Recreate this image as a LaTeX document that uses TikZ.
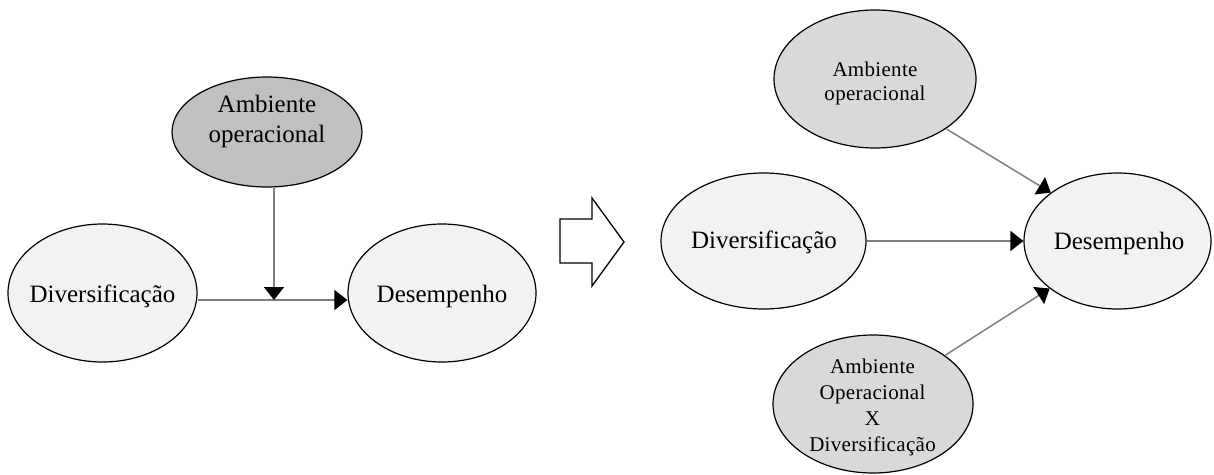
\documentclass[tikz,border=0pt]{standalone}
\usepackage{fontspec}
\setmainfont{Liberation Serif}
\newfontfamily\spacedfont[LetterSpace=1.5]{Liberation Serif}
\usetikzlibrary{shapes.geometric,arrows.meta}
\definecolor{darkfill}{HTML}{C0C0C0}
\definecolor{midfill}{HTML}{D9D9D9}
\definecolor{lightfill}{HTML}{F2F2F2}
\definecolor{conngray}{HTML}{7F7F7F}
\tikzset{
  ell/.style={ellipse, draw=black, line width=1.2pt, inner sep=0pt},
  bigtext/.style={inner sep=0pt, anchor=base, font=\fontsize{25}{30}\selectfont},
  smalltext/.style={inner sep=0pt, anchor=base},
  conn/.style={draw=conngray, line width=1.5pt, -{Triangle[length=13pt,width=20pt,color=black]}},
}
\begin{document}
\begin{tikzpicture}[x=1pt,y=-1pt]
\useasboundingbox (0,0) rectangle (1214,474);
% left model
\node[ell, fill=darkfill, minimum width=190pt, minimum height=110pt] (ambL) at (267,132) {};
\node[ell, fill=lightfill, minimum width=189pt, minimum height=138pt] (divL) at (102.5,293) {};
\node[ell, fill=lightfill, minimum width=188pt, minimum height=138pt] (desL) at (442,293) {};
\node[bigtext] (ambLt) at (267,112) {\begin{tabular}[t]{@{}c@{}}Ambiente\\operacional\end{tabular}};
\node[bigtext] (divLt) at (102.5,302) {Diversificação};
\node[bigtext] (desLt) at (442,302) {Desempenho};
\coordinate (j) at (274,300);
\draw[conn] (divL.east |- j) -- (desL.west |- j);
\draw[conn] (ambL.south -| j) -- (j);
% block arrow
\draw[black, line width=1.3pt, fill=white, line join=miter]
  (560,219) -- (592,219) -- (592,198) -- (624,242) -- (592,286) -- (592,263) -- (560,263) -- cycle;
% right model
\node[ell, fill=midfill, minimum width=202pt, minimum height=138pt] (ambR) at (875,79) {};
\node[ell, fill=lightfill, minimum width=205pt, minimum height=136pt] (divR) at (763.5,241) {};
\node[ell, fill=lightfill, minimum width=187pt, minimum height=136pt] (desR) at (1117.5,241) {};
\node[ell, fill=midfill, minimum width=200pt, minimum height=138pt] (ambXR) at (873,404) {};
\node[smalltext, font=\spacedfont\fontsize{21}{24}\selectfont] (ambRt) at (875,76) {\begin{tabular}[t]{@{}c@{}}Ambiente\\operacional\end{tabular}};
\node[bigtext] (divRt) at (764,248) {Diversificação};
\node[bigtext] (desRt) at (1119,249) {Desempenho};
\node[smalltext, font=\spacedfont\fontsize{21}{26.3}\selectfont] (ambXRt) at (872.5,373) {\begin{tabular}[t]{@{}c@{}}Ambiente\\Operacional\\X\\Diversificação\end{tabular}};
\draw[conn] (ambR.-35) -- (desR.144.6);
\draw[conn] (divR.east) -- (desR.west);
\draw[conn] (ambXR.34.6) -- (desR.215.1);
\end{tikzpicture}
\end{document}
